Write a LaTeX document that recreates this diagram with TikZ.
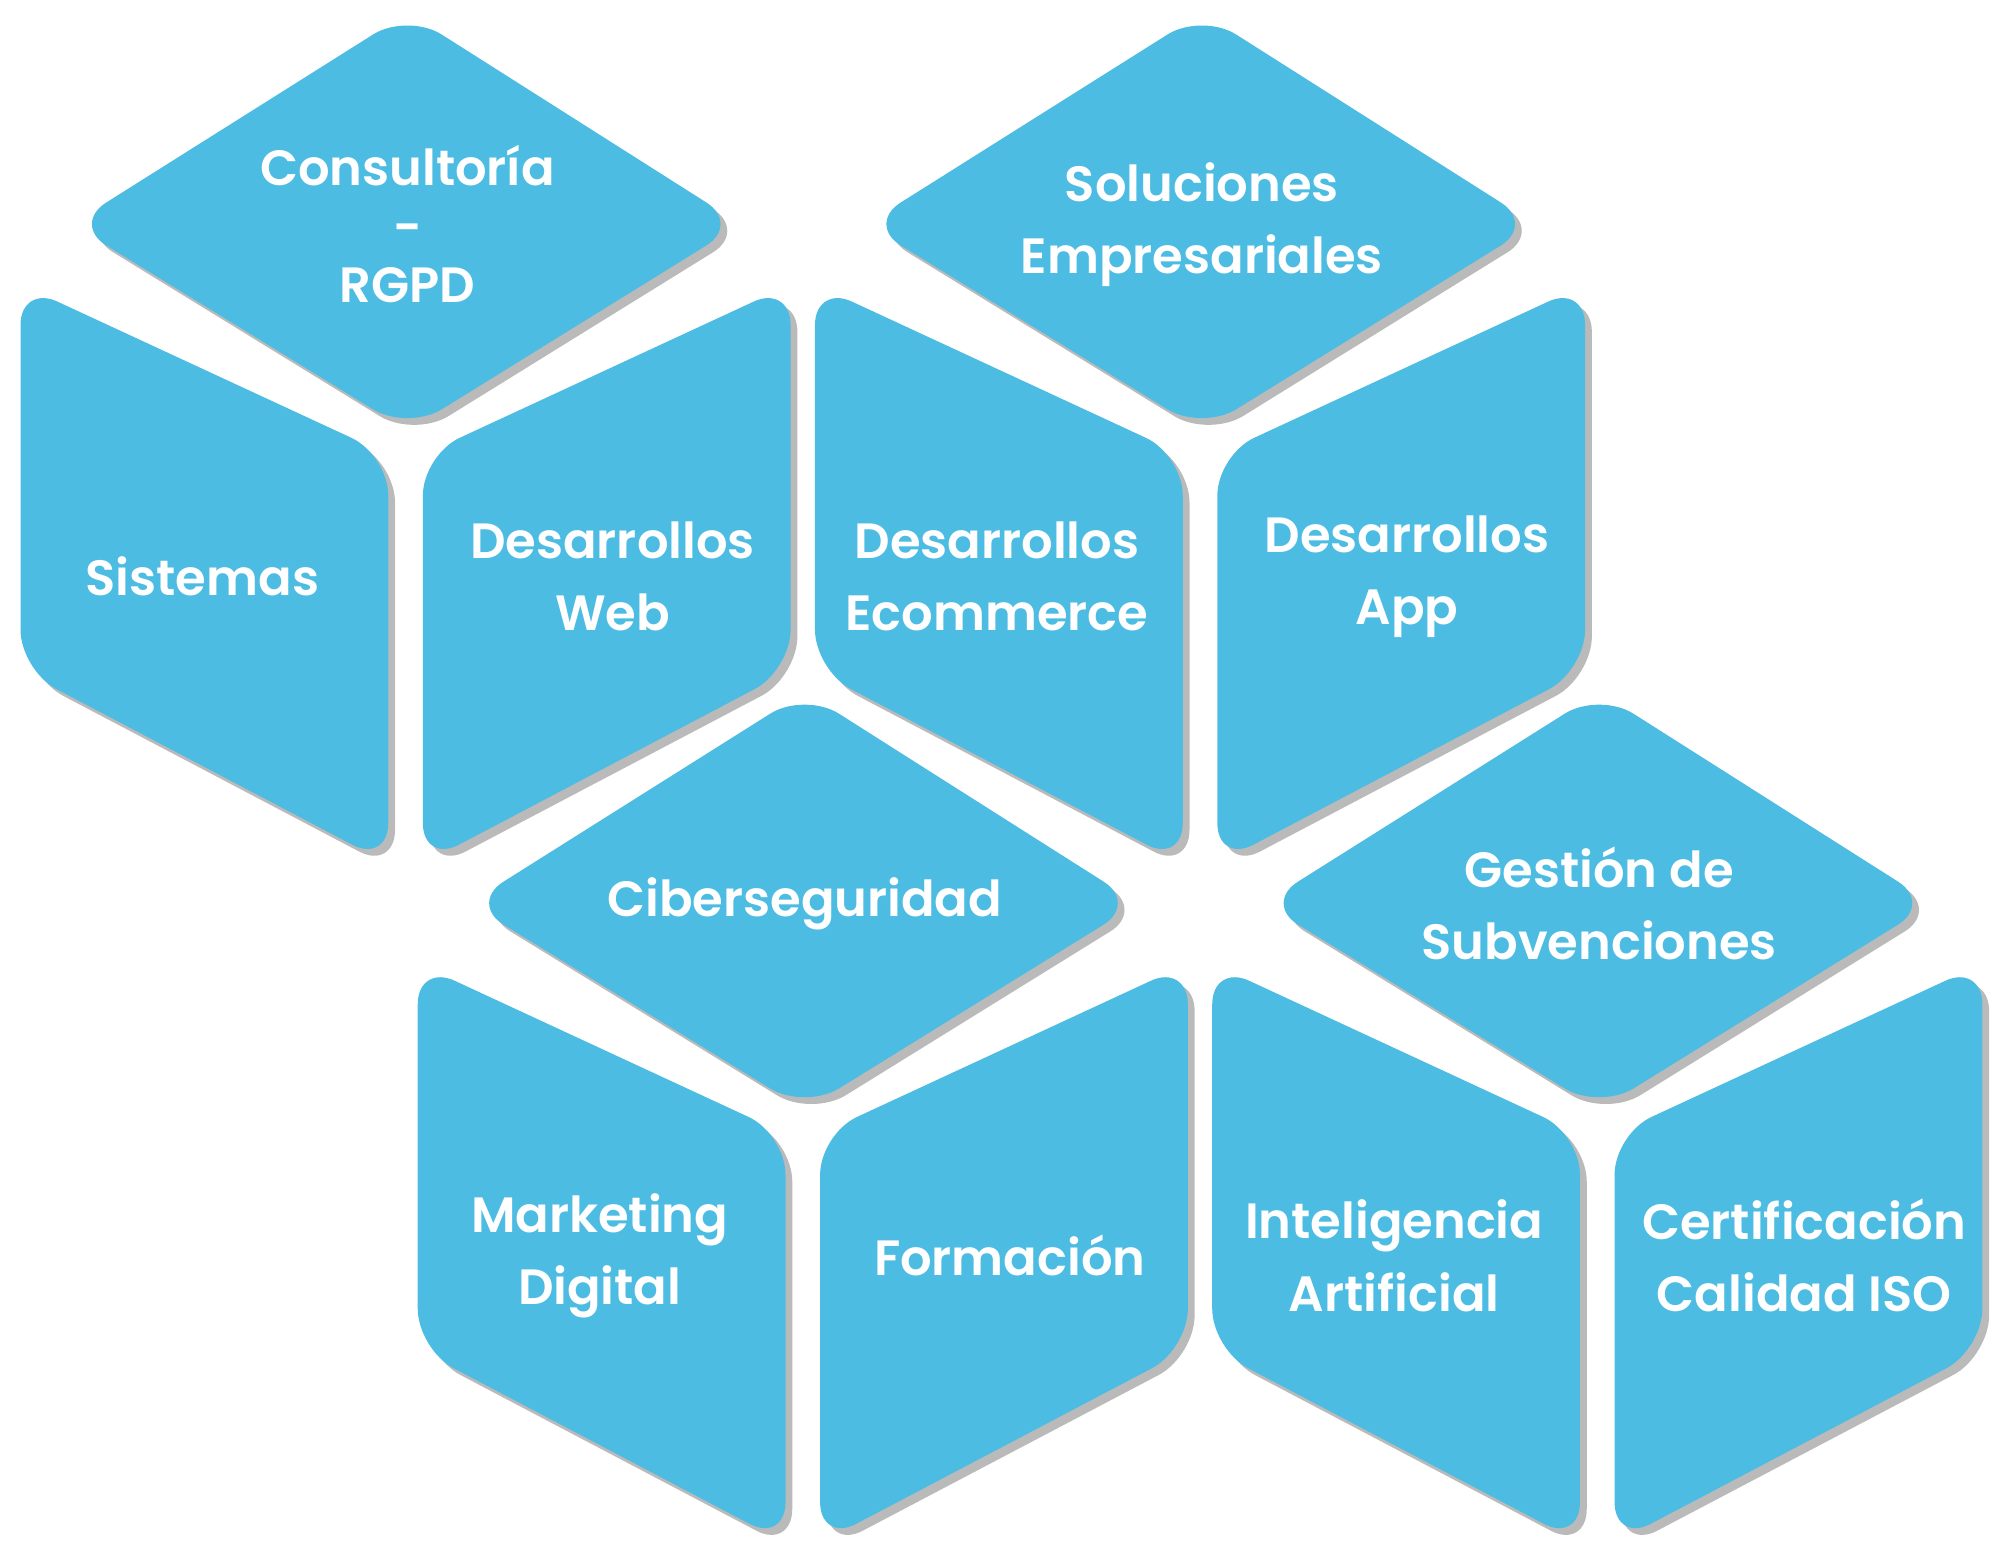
\documentclass[tikz,border=0pt]{standalone}
\usepackage{fontspec}
\setmainfont{Poppins}[UprightFont=* SemiBold,BoldFont=* SemiBold]
\usetikzlibrary{shadows}
\definecolor{cubeblue}{HTML}{4DBCE3}
\tikzset{face/.style={fill=cubeblue, rounded corners=9pt, drop shadow={shadow xshift=1.5pt, shadow yshift=-1.5pt, opacity=0.45, fill=black!60}},
  label/.style={text=white, align=center, font=\fontsize{11}{16}\selectfont}}
\newcommand{\cubeblock}[5]{%
  \begin{scope}[shift={(#1)}]
    \path[face] (0,-8) -- (-262,157) -- (0,318) -- (260,157) -- cycle;
    \path[face] (-302,204) -- (-15,337) -- (-15,656) -- (-302,505) -- cycle;
    \path[face] (12,337) -- (299,204) -- (299,505) -- (12,656) -- cycle;
    \node (#2top) [label] at (0,157) {#3};
    \node (#2left) [label] at (-160,432) {#4};
    \node (#2right) [label] at (160,432) {#5};
  \end{scope}}
\begin{document}
\begin{tikzpicture}[x=0.01cm, y=-0.01cm]
  \useasboundingbox (0,0) rectangle (1560,1206);
  \cubeblock{318,18}{rgpd}{Consultoría\\[-3pt]-\\[-3pt]RGPD}{Sistemas}{Desarrollos\\Web}
  \cubeblock{938,18}{sol}{Soluciones\\Empresariales}{Desarrollos\\Ecommerce}{Desarrollos\\App}
  \cubeblock{628,548}{ciber}{Ciberseguridad}{Marketing\\Digital}{Formación}
  \cubeblock{1248,548}{gest}{Gestión de\\Subvenciones}{Inteligencia\\Artificial}{Certificación\\Calidad ISO}
\end{tikzpicture}
\end{document}
